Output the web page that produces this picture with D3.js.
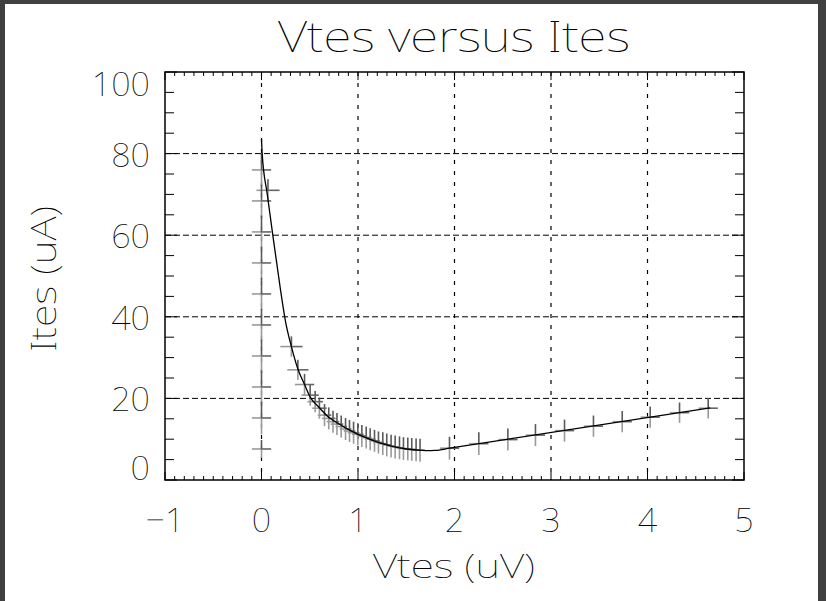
<!DOCTYPE html>
<html>
<head>
<meta charset="utf-8">
<script src="https://cdn.jsdelivr.net/npm/d3@7"></script>
<style>
  html, body { margin: 0; padding: 0; background: #404040; }
  svg { display: block; }
  text { font-family: "Noto Sans", sans-serif; font-weight: 100; fill: #000; }
</style>
</head>
<body>
<svg width="826" height="601"></svg>
<script>
const width = 826;
const height = 601;

// Measured points (Vtes in uV, Ites in uA) with their error half-widths
const vtes = [0, 0, 0, 0, 0, 0, 0, 0, 0, 0, 0.067,
  0.31, 0.377, 0.446, 0.504, 0.556, 0.60, 0.653, 0.697, 0.741, 0.782, 0.826, 0.871,
  0.912, 0.954, 0.998, 1.040, 1.085, 1.126, 1.171, 1.212, 1.257, 1.298, 1.343, 1.385,
  1.430, 1.471, 1.516, 1.557, 1.602, 1.643,
  1.948, 2.252, 2.553, 2.839, 3.140, 3.440, 3.738, 4.028, 4.332, 4.629];
const ites = [76.0, 68.4, 60.8, 53.2, 45.6, 38.0, 30.4, 22.8, 15.2, 7.6, 71.0,
  32.7, 27.0, 23.4, 20.8, 19.2, 17.6, 15.9, 15.1, 14.3, 13.7, 13.1, 12.5,
  12.0, 11.6, 11.2, 10.8, 10.4, 10.0, 9.6, 9.2, 8.9, 8.6, 8.3, 8.1,
  7.9, 7.7, 7.6, 7.5, 7.4, 7.3,
  7.8, 8.9, 9.9, 11.0, 12.1, 13.2, 14.3, 15.4, 16.5, 17.6];
const vErr = [0.1, 0.1, 0.1, 0.1, 0.1, 0.1, 0.1, 0.1, 0.1, 0.1, 0.12,
  0.115, 0.11, 0.1, 0.09, 0.08, 0.075, 0.07, 0.07, 0.065, 0.065, 0.06, 0.06,
  0.06, 0.06, 0.06, 0.055, 0.055, 0.055, 0.055, 0.055, 0.05, 0.05, 0.05, 0.05,
  0.05, 0.05, 0.05, 0.05, 0.05, 0.05,
  0.1, 0.1, 0.1, 0.1, 0.1, 0.1, 0.1, 0.1, 0.1, 0.1];
const iErr = [4, 4, 4, 4, 4, 4, 4, 4, 4, 2.2, 2.7,
  2.5, 2.5, 2.6, 2.6, 2.6, 2.6, 2.7, 2.7, 2.7, 2.7, 2.7, 2.7,
  2.7, 2.7, 2.7, 2.7, 2.7, 2.7, 2.7, 2.7, 2.8, 2.8, 2.8, 2.8,
  2.8, 2.8, 2.8, 2.8, 2.8, 2.8,
  2.8, 2.8, 2.7, 2.7, 2.7, 2.6, 2.6, 2.6, 2.5, 2.5];

// Fitted curve
const fitV = [0, 0.007, 0.06, 0.117, 0.16, 0.197, 0.25, 0.31, 0.377, 0.446, 0.5, 0.6, 0.7,
  0.8, 0.9, 1.0, 1.1, 1.2, 1.3, 1.4, 1.5, 1.6, 1.7, 1.8, 1.95, 4.65];
const fitI = [83.6, 80, 70, 60, 52.8, 46.6, 38.7, 32.7, 27.2, 23.4, 20.5, 17.7, 15.3,
  13.8, 12.4, 11.2, 10.2, 9.3, 8.6, 8.0, 7.6, 7.35, 7.2, 7.25, 7.8, 17.7];

// Axis ticks
const xTicks = [-1, 0, 1, 2, 3, 4, 5];
const yTicks = [0, 20, 40, 60, 80, 100];
const xGrid = [0, 1, 2, 3, 4];
const yGrid = [20, 40, 60, 80];

const svg = d3.select("svg");

// white page inside dark border
svg.append("rect")
  .attr("x", 5).attr("y", 4)
  .attr("width", 813).attr("height", height - 4)
  .attr("fill", "#fff");

const pLeft = 165, pRight = 744, pTop = 72, pBottom = 480;
const x = d3.scaleLinear().domain([-1, 5]).range([pLeft, pRight]);
const y = d3.scaleLinear().domain([0, 100]).range([pBottom, pTop]);

// Grid lines
svg.append("g")
  .selectAll("line")
  .data(yGrid)
  .enter()
  .append("line")
  .attr("x1", pLeft).attr("x2", pRight)
  .attr("y1", d => y(d)).attr("y2", d => y(d))
  .attr("stroke", "#000")
  .attr("stroke-width", 1)
  .attr("stroke-dasharray", "6,3");

svg.append("g")
  .selectAll("line")
  .data(xGrid)
  .enter()
  .append("line")
  .attr("x1", d => x(d)).attr("x2", d => x(d))
  .attr("y1", pTop).attr("y2", pBottom)
  .attr("stroke", "#000")
  .attr("stroke-width", 1.2)
  .attr("stroke-dasharray", "4,7");

// Error bars (two tone like the original)
const pts = vtes.map((v, i) => ({ v: v, i: ites[i], dv: vErr[i], di: iErr[i] }));
const eb = svg.append("g").attr("stroke-width", 1.6);

eb.selectAll(".lo").data(pts).enter().append("line")
  .attr("x1", d => x(d.v)).attr("x2", d => x(d.v))
  .attr("y1", d => y(d.i)).attr("y2", d => y(d.i - d.di))
  .attr("stroke", "#9a9a9a");
eb.selectAll(".le").data(pts).enter().append("line")
  .attr("x1", d => x(d.v - d.dv)).attr("x2", d => x(d.v))
  .attr("y1", d => y(d.i)).attr("y2", d => y(d.i))
  .attr("stroke", "#9a9a9a");
eb.selectAll(".up").data(pts).enter().append("line")
  .attr("x1", d => x(d.v)).attr("x2", d => x(d.v))
  .attr("y1", d => y(d.i)).attr("y2", d => y(d.i + d.di))
  .attr("stroke", "#5a5a5a");
eb.selectAll(".ri").data(pts).enter().append("line")
  .attr("x1", d => x(d.v)).attr("x2", d => x(d.v + d.dv))
  .attr("y1", d => y(d.i)).attr("y2", d => y(d.i))
  .attr("stroke", "#666");

// Fit curve
const line = d3.line()
  .x(d => x(d[0]))
  .y(d => y(d[1]))
  .curve(d3.curveMonotoneX);
svg.append("path")
  .datum(fitV.map((v, i) => [v, fitI[i]]))
  .attr("d", line)
  .attr("fill", "none")
  .attr("stroke", "#000")
  .attr("stroke-width", 1.3);

// Frame
svg.append("rect")
  .attr("x", pLeft).attr("y", pTop)
  .attr("width", pRight - pLeft).attr("height", pBottom - pTop)
  .attr("fill", "none")
  .attr("stroke", "#000")
  .attr("stroke-width", 1.5);

// Minor/major ticks on all four sides
const xMinor = d3.range(-10, 51).map(k => k / 10);
const yMinor = d3.range(0, 21).map(k => k * 5);
const tk = svg.append("g").attr("stroke", "#000").attr("stroke-width", 1);

tk.selectAll(".xb").data(xMinor).enter().append("line")
  .attr("x1", d => x(d)).attr("x2", d => x(d))
  .attr("y1", pBottom).attr("y2", d => pBottom - (Math.abs(d % 1) < 1e-6 ? 8 : 4));
tk.selectAll(".xt").data(xMinor).enter().append("line")
  .attr("x1", d => x(d)).attr("x2", d => x(d))
  .attr("y1", pTop).attr("y2", d => pTop + (Math.abs(d % 1) < 1e-6 ? 8 : 4));
tk.selectAll(".yl").data(yMinor).enter().append("line")
  .attr("y1", d => y(d)).attr("y2", d => y(d))
  .attr("x1", pLeft).attr("x2", d => pLeft + (d % 20 === 0 ? 12 : 9));
tk.selectAll(".yr").data(yMinor).enter().append("line")
  .attr("y1", d => y(d)).attr("y2", d => y(d))
  .attr("x1", pRight).attr("x2", d => pRight - (d % 20 === 0 ? 12 : 9));

// Tick labels
svg.append("g")
  .selectAll("text")
  .data(xTicks)
  .enter()
  .append("text")
  .attr("x", d => x(d))
  .attr("y", 532)
  .attr("text-anchor", "middle")
  .attr("font-size", 34)
  .text(d => d < 0 ? "\u2212" + Math.abs(d) : d);

svg.append("g")
  .selectAll("text")
  .data(yTicks)
  .enter()
  .append("text")
  .attr("x", 150)
  .attr("y", d => d === 0 ? pBottom : d === 100 ? pTop + 24 : y(d) + 13)
  .attr("text-anchor", "end")
  .attr("font-size", 34)
  .text(d => d);

// Titles
svg.append("text")
  .attr("x", 278).attr("y", 52)
  .attr("textLength", 352)
  .attr("lengthAdjust", "spacingAndGlyphs")
  .attr("font-size", 42)
  .text("Vtes versus Ites");

svg.append("text")
  .attr("x", 373).attr("y", 578)
  .attr("textLength", 162)
  .attr("lengthAdjust", "spacingAndGlyphs")
  .attr("font-size", 34)
  .text("Vtes (uV)");

svg.append("text")
  .attr("transform", "translate(56,352) rotate(-90)")
  .attr("textLength", 146)
  .attr("lengthAdjust", "spacingAndGlyphs")
  .attr("font-size", 35)
  .text("Ites (uA)");
</script>
</body>
</html>
